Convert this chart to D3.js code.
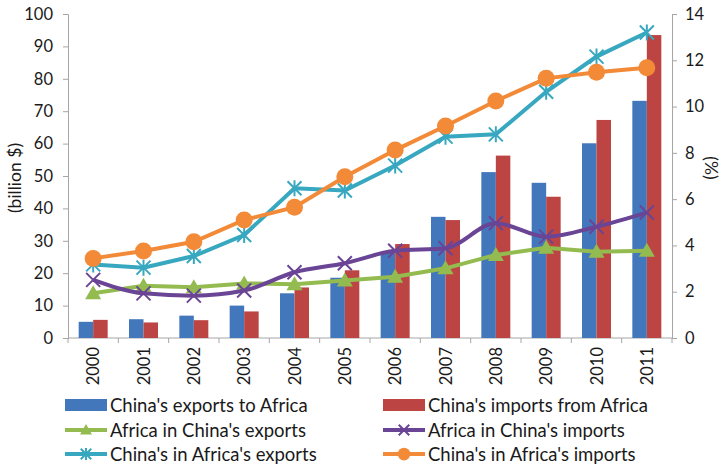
<!DOCTYPE html>
<html><head><meta charset="utf-8">
<script src="https://cdn.jsdelivr.net/npm/d3@7"></script>
<style>body{margin:0;background:#fff}svg{display:block}text{font-family:Lato,"Liberation Sans",sans-serif;fill:#1a1a1a}</style>
</head><body><svg id="c" width="722" height="464"></svg>
<script>
const years = ["2000","2001","2002","2003","2004","2005","2006","2007","2008","2009","2010","2011"];
const chinaExports = [5.0,5.8,6.9,10.0,13.8,18.6,26.6,37.4,51.2,47.9,60.1,73.2];
const chinaImports = [5.6,4.8,5.5,8.2,15.6,20.9,29.0,36.4,56.3,43.6,67.3,93.5];
const africaInChinaExports = [1.93,2.26,2.19,2.36,2.32,2.48,2.65,3.01,3.59,3.90,3.73,3.77];
const africaInChinaImports = [2.51,1.93,1.83,2.05,2.84,3.23,3.77,3.88,4.96,4.38,4.81,5.42];
const chinaInAfricaExports = [3.18,3.04,3.54,4.45,6.47,6.37,7.45,8.70,8.80,10.64,12.16,13.2];
const chinaInAfricaImports = [3.44,3.76,4.16,5.10,5.65,6.97,8.12,9.16,10.24,11.22,11.48,11.68];
const leftTicks = [0,10,20,30,40,50,60,70,80,90,100];
const rightTicks = [0,2,4,6,8,10,12,14];

const svg = d3.select("#c");
const L = 68, R = 672, T = 14, B = 338;
const x = d3.scaleBand().domain(years).range([L, R]);
const yL = d3.scaleLinear().domain([0,100]).range([B, T]);
const yR = d3.scaleLinear().domain([0,14]).range([B, T]);
const axisCol = "#a6a6a6";

// axes
const gl = svg.append("g").attr("transform", `translate(${L},0)`)
  .call(d3.axisLeft(yL).tickValues(leftTicks).tickSize(5).tickPadding(10));
const gr = svg.append("g").attr("transform", `translate(${R},0)`)
  .call(d3.axisRight(yR).tickValues(rightTicks).tickSize(5).tickPadding(8));
[gl, gr].forEach(g => {
  g.select(".domain").attr("stroke", axisCol);
  g.selectAll(".tick line").attr("stroke", axisCol);
  g.selectAll(".tick text").style("font-size","16.5px").attr("fill","#1a1a1a");
});
// x axis
svg.append("line").attr("x1",L).attr("x2",R).attr("y1",B).attr("y2",B).attr("stroke",axisCol);
svg.append("g").selectAll("line").data(d3.range(years.length+1)).join("line")
  .attr("x1", i => L + i*x.step()).attr("x2", i => L + i*x.step())
  .attr("y1", B).attr("y2", B+5).attr("stroke", axisCol);
svg.append("g").selectAll("text").data(years).join("text")
  .attr("transform", d => `translate(${x(d)+x.bandwidth()/2+6},${B+9}) rotate(-90)`)
  .attr("text-anchor","end").style("font-size","16.5px").text(d => d);

// axis titles
svg.append("text").attr("transform","translate(21,178) rotate(-90)").attr("text-anchor","middle")
  .style("font-size","17.5px").text("(billion $)");
svg.append("text").attr("transform","translate(705,168) rotate(90)").attr("text-anchor","middle")
  .style("font-size","17.5px").text("(%)");

// bars
const bw = 14.5;
const barG = svg.append("g");
barG.selectAll(".b1").data(years).join("rect")
  .attr("x", d => x(d)+x.bandwidth()/2 - bw).attr("width", bw)
  .attr("y", (d,i) => yL(chinaExports[i])).attr("height", (d,i) => B - yL(chinaExports[i]))
  .attr("fill","#4377bb");
barG.selectAll(".b2").data(years).join("rect")
  .attr("x", d => x(d)+x.bandwidth()/2).attr("width", bw)
  .attr("y", (d,i) => yL(chinaImports[i])).attr("height", (d,i) => B - yL(chinaImports[i]))
  .attr("fill","#bc4543");

const cx = d => x(d) + x.bandwidth()/2;
const series = [
  {vals: africaInChinaExports, color:"#93bb4f", marker:"tri", curve:d3.curveLinear},
  {vals: africaInChinaImports, color:"#6a4495", marker:"x", curve:d3.curveMonotoneX},
  {vals: chinaInAfricaExports, color:"#38a7c0", marker:"star", curve:d3.curveLinear},
  {vals: chinaInAfricaImports, color:"#f28a38", marker:"circle", curve:d3.curveLinear}
];
function drawMarker(g, type, color, px, py, s) {
  s = s || 1;
  if (type === "tri") {
    g.append("path").attr("d", `M${px},${py-8*s}L${px+8*s},${py+6*s}L${px-8*s},${py+6*s}Z`).attr("fill", color);
  } else if (type === "x") {
    g.append("path").attr("d", `M${px-7*s},${py-7*s}L${px+7*s},${py+7*s}M${px-7*s},${py+7*s}L${px+7*s},${py-7*s}`)
      .attr("stroke", color).attr("stroke-width", 2);
  } else if (type === "star") {
    g.append("path").attr("d", `M${px-7*s},${py-7*s}L${px+7*s},${py+7*s}M${px-7*s},${py+7*s}L${px+7*s},${py-7*s}M${px},${py-8*s}L${px},${py+8*s}`)
      .attr("stroke", color).attr("stroke-width", 2);
  } else {
    g.append("circle").attr("cx", px).attr("cy", py).attr("r", 8.5*s).attr("fill", color);
  }
}
series.forEach(s => {
  const g = svg.append("g");
  const line = d3.line().x((v,i) => cx(years[i])).y(v => yR(v)).curve(s.curve);
  g.append("path").attr("d", line(s.vals)).attr("fill","none").attr("stroke", s.color).attr("stroke-width", 4);
  s.vals.forEach((v,i) => drawMarker(g, s.marker, s.color, cx(years[i]), yR(v)));
});

// legend
const legend = [
  {label:"China's exports to Africa", color:"#4377bb", type:"bar", col:0, row:0},
  {label:"China's imports from Africa", color:"#bc4543", type:"bar", col:1, row:0},
  {label:"Africa in China's exports", color:"#93bb4f", type:"tri", col:0, row:1},
  {label:"Africa in China's imports", color:"#6a4495", type:"x", col:1, row:1},
  {label:"China's in Africa's exports", color:"#38a7c0", type:"star", col:0, row:2},
  {label:"China's in Africa's imports", color:"#f28a38", type:"circle", col:1, row:2}
];
const colX = [65, 383], rowY = [405, 430, 454];
const lg = svg.append("g");
legend.forEach(d => {
  const x0 = colX[d.col], y0 = rowY[d.row];
  if (d.type === "bar") {
    lg.append("rect").attr("x", x0).attr("y", y0-6).attr("width", 42).attr("height", 12).attr("fill", d.color);
  } else {
    lg.append("line").attr("x1", x0).attr("x2", x0+42).attr("y1", y0).attr("y2", y0).attr("stroke", d.color).attr("stroke-width", 4);
    drawMarker(lg, d.type, d.color, x0+21, y0, 0.75);
  }
  lg.append("text").attr("x", x0+45).attr("y", y0).attr("dy","0.36em").style("font-size","18.5px").text(d.label);
});
</script></body></html>
